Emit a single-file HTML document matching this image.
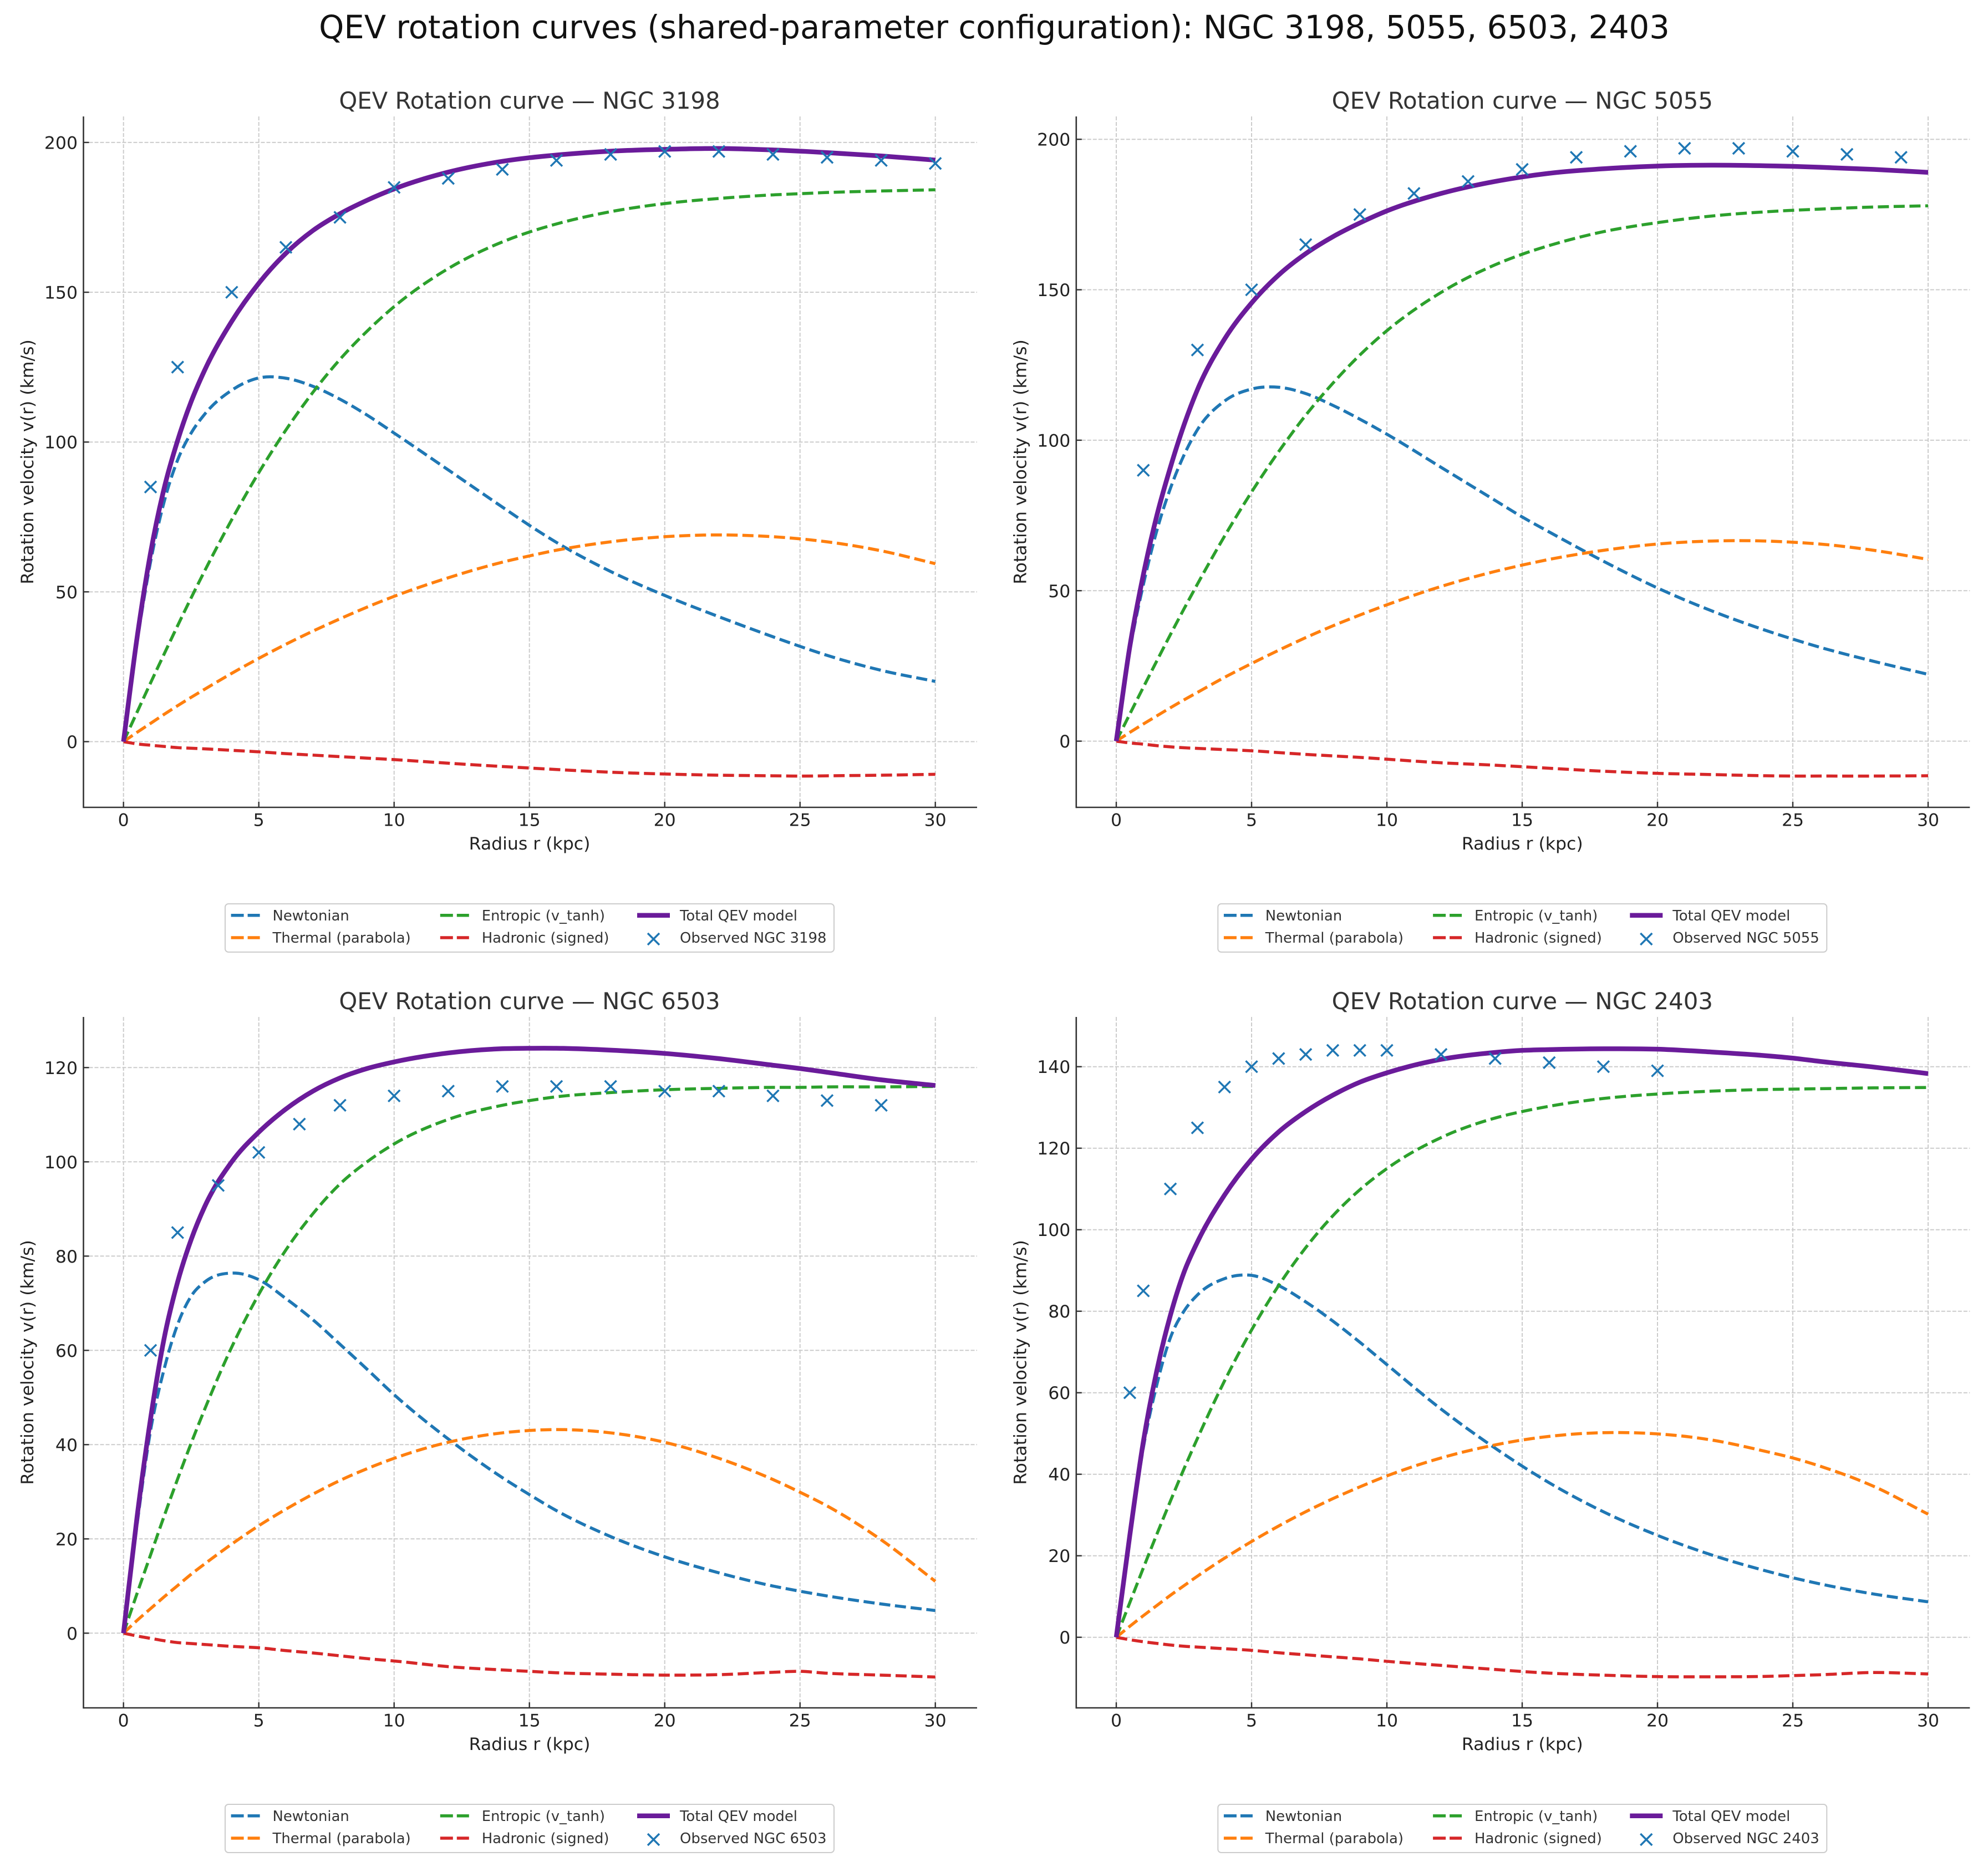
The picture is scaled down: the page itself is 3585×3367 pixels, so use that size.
<!DOCTYPE html>
<html lang="en">
<head>
<meta charset="utf-8">
<title>QEV rotation curves</title>
<style>
html,body{margin:0;padding:0;background:#fff;}
svg{display:block;}
text{font-family:"DejaVu Sans","Liberation Sans",sans-serif;}
.st{font-size:41.8px;fill:#333;text-anchor:middle;}
.al{font-size:31.5px;fill:#222;text-anchor:middle;}
.lg{font-size:25.9px;fill:#333;}
.lbox{fill:#fff;stroke:#ccc;stroke-width:2;}
.lh{fill:none;stroke-width:5.5;stroke-dasharray:23 7;}
.lx{fill:none;stroke:#1f77b4;stroke-width:3.5;}
</style>
</head>
<body>
<svg id="figure" xmlns="http://www.w3.org/2000/svg" width="3585" height="3367" viewBox="0 0 3585 3367">
<rect width="3585" height="3367" fill="#fff"/>
<text x="1793" y="69" font-size="57.5" fill="#111" text-anchor="middle">QEV rotation curves (shared-parameter configuration): NGC 3198, 5055, 6503, 2403</text>

<g id="panel-0" transform="translate(0,0)">
<g class="plot"></g>
<text class="st" x="955" y="196">QEV Rotation curve — NGC 3198</text>
<text class="al" x="955" y="1532">Radius r (kpc)</text>
<text class="al" transform="translate(60,833) rotate(-90)">Rotation velocity v(r) (km/s)</text>
<g>
<rect class="lbox" x="406" y="1630" width="1098" height="87" rx="6"/>
<line class="lh" x1="416.6" x2="468.6" y1="1650.7" y2="1650.7" stroke="#1f77b4"/>
<text class="lg" x="491.5" y="1660">Newtonian</text>
<line class="lh" x1="416.6" x2="468.6" y1="1691" y2="1691" stroke="#ff7f0e"/>
<text class="lg" x="491.5" y="1700">Thermal (parabola)</text>
<line class="lh" x1="793.8" x2="845.8" y1="1650.7" y2="1650.7" stroke="#2ca02c"/>
<text class="lg" x="868.7" y="1660">Entropic (v_tanh)</text>
<line class="lh" x1="793.8" x2="845.8" y1="1691" y2="1691" stroke="#d62728"/>
<text class="lg" x="868.7" y="1700">Hadronic (signed)</text>
<line x1="1149" x2="1208" y1="1650.7" y2="1650.7" stroke="#6a1b9a" stroke-width="8.5"/>
<text class="lg" x="1226" y="1660">Total QEV model</text>
<path class="lx" d="M1168 1683L1189 1704M1168 1704L1189 1683"/>
<text class="lg" x="1226" y="1700">Observed NGC 3198</text>
</g>
</g>

<g id="panel-1" transform="translate(1790.3,0)">
<g class="plot"></g>
<text class="st" x="955" y="196">QEV Rotation curve — NGC 5055</text>
<text class="al" x="955" y="1532">Radius r (kpc)</text>
<text class="al" transform="translate(60,833) rotate(-90)">Rotation velocity v(r) (km/s)</text>
<g>
<rect class="lbox" x="406" y="1630" width="1098" height="87" rx="6"/>
<line class="lh" x1="416.6" x2="468.6" y1="1650.7" y2="1650.7" stroke="#1f77b4"/>
<text class="lg" x="491.5" y="1660">Newtonian</text>
<line class="lh" x1="416.6" x2="468.6" y1="1691" y2="1691" stroke="#ff7f0e"/>
<text class="lg" x="491.5" y="1700">Thermal (parabola)</text>
<line class="lh" x1="793.8" x2="845.8" y1="1650.7" y2="1650.7" stroke="#2ca02c"/>
<text class="lg" x="868.7" y="1660">Entropic (v_tanh)</text>
<line class="lh" x1="793.8" x2="845.8" y1="1691" y2="1691" stroke="#d62728"/>
<text class="lg" x="868.7" y="1700">Hadronic (signed)</text>
<line x1="1149" x2="1208" y1="1650.7" y2="1650.7" stroke="#6a1b9a" stroke-width="8.5"/>
<text class="lg" x="1226" y="1660">Total QEV model</text>
<path class="lx" d="M1168 1683L1189 1704M1168 1704L1189 1683"/>
<text class="lg" x="1226" y="1700">Observed NGC 5055</text>
</g>
</g>

<g id="panel-2" transform="translate(0,1624)">
<g class="plot"></g>
<text class="st" x="955" y="196">QEV Rotation curve — NGC 6503</text>
<text class="al" x="955" y="1532">Radius r (kpc)</text>
<text class="al" transform="translate(60,833) rotate(-90)">Rotation velocity v(r) (km/s)</text>
<g>
<rect class="lbox" x="406" y="1630" width="1098" height="87" rx="6"/>
<line class="lh" x1="416.6" x2="468.6" y1="1650.7" y2="1650.7" stroke="#1f77b4"/>
<text class="lg" x="491.5" y="1660">Newtonian</text>
<line class="lh" x1="416.6" x2="468.6" y1="1691" y2="1691" stroke="#ff7f0e"/>
<text class="lg" x="491.5" y="1700">Thermal (parabola)</text>
<line class="lh" x1="793.8" x2="845.8" y1="1650.7" y2="1650.7" stroke="#2ca02c"/>
<text class="lg" x="868.7" y="1660">Entropic (v_tanh)</text>
<line class="lh" x1="793.8" x2="845.8" y1="1691" y2="1691" stroke="#d62728"/>
<text class="lg" x="868.7" y="1700">Hadronic (signed)</text>
<line x1="1149" x2="1208" y1="1650.7" y2="1650.7" stroke="#6a1b9a" stroke-width="8.5"/>
<text class="lg" x="1226" y="1660">Total QEV model</text>
<path class="lx" d="M1168 1683L1189 1704M1168 1704L1189 1683"/>
<text class="lg" x="1226" y="1700">Observed NGC 6503</text>
</g>
</g>

<g id="panel-3" transform="translate(1790.3,1624)">
<g class="plot"></g>
<text class="st" x="955" y="196">QEV Rotation curve — NGC 2403</text>
<text class="al" x="955" y="1532">Radius r (kpc)</text>
<text class="al" transform="translate(60,833) rotate(-90)">Rotation velocity v(r) (km/s)</text>
<g>
<rect class="lbox" x="406" y="1630" width="1098" height="87" rx="6"/>
<line class="lh" x1="416.6" x2="468.6" y1="1650.7" y2="1650.7" stroke="#1f77b4"/>
<text class="lg" x="491.5" y="1660">Newtonian</text>
<line class="lh" x1="416.6" x2="468.6" y1="1691" y2="1691" stroke="#ff7f0e"/>
<text class="lg" x="491.5" y="1700">Thermal (parabola)</text>
<line class="lh" x1="793.8" x2="845.8" y1="1650.7" y2="1650.7" stroke="#2ca02c"/>
<text class="lg" x="868.7" y="1660">Entropic (v_tanh)</text>
<line class="lh" x1="793.8" x2="845.8" y1="1691" y2="1691" stroke="#d62728"/>
<text class="lg" x="868.7" y="1700">Hadronic (signed)</text>
<line x1="1149" x2="1208" y1="1650.7" y2="1650.7" stroke="#6a1b9a" stroke-width="8.5"/>
<text class="lg" x="1226" y="1660">Total QEV model</text>
<path class="lx" d="M1168 1683L1189 1704M1168 1704L1189 1683"/>
<text class="lg" x="1226" y="1700">Observed NGC 2403</text>
</g>
</g>
</svg>

<script>
// Shared sampling radii (kpc) for the model curves
const radiusGrid = [0,0.5,1,1.5,2,2.5,3,4,5,6,7,8,9,10,12,14,15,16,18,20,22,24,25,26,28,30];
const xTickValues = [0,5,10,15,20,25,30];
const yTicks3198 = [0,50,100,150,200];
const yTicks5055 = [0,50,100,150,200];
const yTicks6503 = [0,20,40,60,80,100,120];
const yTicks2403 = [0,20,40,60,80,100,120,140];

// NGC 3198
const newtonian3198 = [0,33,60,80,94,103,109.3,117.3,121.4,121.3,118.6,114.3,109,103,90.7,78.3,72.2,66.5,56.8,48.8,41.7,35,31.8,28.8,23.8,20.1];
const thermal3198 = [0,3.1,6.1,9.1,12,14.8,17.5,22.8,27.8,32.5,36.9,41,44.9,48.5,54.7,59.9,62,63.9,66.7,68.4,69,68.4,67.7,66.7,63.7,59.4];
const entropic3198 = [0,9.8,19.6,29.2,38.7,48,57,74.1,89.8,104,116.6,127.6,137,145.2,157.9,166.8,170.1,172.8,176.9,179.6,181.3,182.5,182.9,183.3,183.8,184.2];
const hadronic3198 = [0,-0.75,-1.2,-1.6,-2,-2.2,-2.4,-2.9,-3.4,-4,-4.5,-5,-5.5,-6,-7.2,-8.3,-8.8,-9.3,-10.2,-10.8,-11.2,-11.4,-11.5,-11.4,-11.2,-10.9];
const total3198 = [0,34.6,63,84.5,100.5,113.5,124,140.3,153,163,170.6,176.2,180.7,184.5,190.1,193.7,194.9,195.8,197.1,197.7,198,197.5,197.1,196.6,195.5,194.1];
const obsR3198 = [1,2,4,6,8,10,12,14,16,18,20,22,24,26,28,30];
const obsV3198 = [85,125,150,165,175,185,188,191,194,196,197,197,196,195,194,193];

// NGC 5055
const newtonian5055 = [0,30,52,70,84,95,103.5,113,117,117.6,115.5,111.6,107,102,91,80,74.5,69.5,59.8,50.9,43.3,36.8,33.9,31.2,26.5,22.2];
const thermal5055 = [0,2.9,5.7,8.4,11.1,13.7,16.2,21.2,25.8,30.2,34.4,38.3,41.9,45.3,51.4,56.4,58.5,60.4,63.4,65.5,66.5,66.5,66.1,65.5,63.4,60.4];
const entropic5055 = [0,9,17.9,26.7,35.4,43.9,52.2,68.1,82.8,96.2,108.3,118.9,128.3,136.4,149.1,158.3,161.8,164.7,169.3,172.3,174.5,175.9,176.4,176.8,177.5,177.9];
const hadronic5055 = [0,-0.6,-1,-1.5,-1.9,-2.2,-2.4,-2.8,-3.2,-3.8,-4.4,-4.9,-5.4,-6,-7.2,-8,-8.5,-9,-10,-10.7,-11.1,-11.5,-11.6,-11.6,-11.6,-11.5];
const total5055 = [0,31.4,55.3,75,91,105,116.8,133.6,145.6,154.9,162,167.6,172.2,176.2,182,186,187.5,188.7,190.2,191.1,191.4,191.2,191,190.7,190,189];
const obsR5055 = [1,3,5,7,9,11,13,15,17,19,21,23,25,27,29];
const obsV5055 = [90,130,150,165,175,182,186,190,194,196,197,197,196,195,194];

// NGC 6503
const newtonian6503 = [0,23,43,56,65.5,71.5,74.5,76.4,75,71,66.5,61.3,56,50.6,41.2,33,29.4,26,20.5,16.2,12.8,10,8.9,7.9,6.2,4.8];
const thermal6503 = [0,2.7,5.2,7.7,10.1,12.5,14.7,18.9,22.8,26.3,29.5,32.4,34.9,37.1,40.5,42.5,43,43.2,42.5,40.5,37.1,32.6,29.9,27,19.8,11];
const entropic6503 = [0,8.4,16.6,24.8,32.7,40.3,47.5,60.7,71.9,81.3,89,95.3,100,103.8,109,112,113,113.8,114.7,115.3,115.6,115.8,115.8,115.9,115.9,116];
const hadronic6503 = [0,-0.6,-1.1,-1.6,-2,-2.2,-2.4,-2.8,-3.1,-3.7,-4.2,-4.8,-5.4,-5.9,-7.1,-7.8,-8.1,-8.4,-8.7,-8.9,-8.8,-8.3,-8.1,-8.5,-8.9,-9.3];
const total6503 = [0,24.6,45.5,62.5,74.5,83.5,90.5,100,106.3,111.2,115,117.8,119.8,121.2,123.1,124,124.1,124.1,123.7,123,121.9,120.5,119.8,119,117.4,116.2];
const obsR6503 = [1,2,3.5,5,6.5,8,10,12,14,16,18,20,22,24,26,28];
const obsV6503 = [60,85,95,102,108,112,114,115,116,116,116,115,115,114,113,112];

// NGC 2403
const newtonian2403 = [0,24,46.5,62,73.5,80,84,88,88.8,86.3,82.3,77.6,72.4,66.9,56,46.4,42,37.9,30.8,25,20.2,16.3,14.6,13.1,10.6,8.7];
const thermal2403 = [0,2.7,5.3,7.8,10.3,12.65,15,19.4,23.5,27.3,30.8,34,36.9,39.6,44,47.2,48.4,49.3,50.2,49.9,48.4,45.6,44,42,37,30.2];
const entropic2403 = [0,8.5,17,25.3,33.4,41.3,48.8,62.9,75.4,86.3,95.6,103.4,109.8,115,122.6,127.4,129,130.3,132.2,133.3,134,134.4,134.5,134.6,134.8,134.9];
const hadronic2403 = [0,-0.6,-1.1,-1.5,-1.9,-2.2,-2.4,-2.8,-3.2,-3.8,-4.3,-4.8,-5.3,-5.9,-6.9,-7.9,-8.4,-8.8,-9.3,-9.65,-9.7,-9.6,-9.4,-9.2,-8.65,-9];
const total2403 = [0,25,48,65.5,79,89.5,97,108.5,117.3,124,129,133,136.2,138.5,141.8,143.5,144,144.2,144.4,144.3,143.6,142.7,142.1,141.3,139.9,138.3];
const obsR2403 = [0.5,1,2,3,4,5,6,7,8,9,10,12,14,16,18,20];
const obsV2403 = [60,85,110,125,135,140,142,143,144,144,144,143,142,141,140,139];

const SVGNS = 'http://www.w3.org/2000/svg';
const AX = {left:150.5, right:1762, top:210, bottom:1456, x0:222.7, xk:48.8};

function mk(parent, tag, attrs) {
  const el = document.createElementNS(SVGNS, tag);
  for (const k in attrs) el.setAttribute(k, attrs[k]);
  parent.appendChild(el);
  return el;
}

function smoothPath(xs, ys) {
  const n = xs.length, m = [];
  for (let i = 0; i < n; i++) {
    if (i === 0) m.push((ys[1]-ys[0])/(xs[1]-xs[0]));
    else if (i === n-1) m.push((ys[n-1]-ys[n-2])/(xs[n-1]-xs[n-2]));
    else {
      const h0 = xs[i]-xs[i-1], h1 = xs[i+1]-xs[i];
      const d0 = (ys[i]-ys[i-1])/h0, d1 = (ys[i+1]-ys[i])/h1;
      m.push((d0*h1 + d1*h0)/(h0+h1));
    }
  }
  let d = 'M' + xs[0].toFixed(2) + ' ' + ys[0].toFixed(2);
  for (let i = 0; i < n-1; i++) {
    const h = xs[i+1]-xs[i];
    d += 'C' + (xs[i]+h/3).toFixed(2) + ' ' + (ys[i]+m[i]*h/3).toFixed(2) + ' '
       + (xs[i+1]-h/3).toFixed(2) + ' ' + (ys[i+1]-m[i+1]*h/3).toFixed(2) + ' '
       + xs[i+1].toFixed(2) + ' ' + ys[i+1].toFixed(2);
  }
  return d;
}

function drawPanel(index, yZero, yScaleK, yTickValues, newtonian, thermal, entropic, hadronic, total, obsR, obsV) {
  const plot = document.querySelector('#panel-' + index + ' .plot');
  const xPx = function (r) { return AX.x0 + AX.xk * r; };
  const yPx = function (v) { return yZero - yScaleK * v; };

  // grid
  xTickValues.forEach(function (t) {
    const g = mk(plot, 'line', {x1:xPx(t), x2:xPx(t), y1:AX.top, y2:AX.bottom, stroke:'#ccc', 'stroke-width':2, 'stroke-dasharray':'7 3'});
    
    
  });
  yTickValues.forEach(function (t) {
    const g = mk(plot, 'line', {x1:AX.left, x2:AX.right, y1:yPx(t), y2:yPx(t), stroke:'#ccc', 'stroke-width':2, 'stroke-dasharray':'7 3'});
    
    
  });

  // series
  const rx = radiusGrid.map(xPx);
  function curve(values, color, width, dashed, name) {
    const attrs = {d:smoothPath(rx, values.map(yPx)), fill:'none', stroke:color, 'stroke-width':width, 'stroke-linejoin':'round'};
    if (dashed) attrs['stroke-dasharray'] = '20 8.5';
    const p = mk(plot, 'path', attrs);
    
    
  }
  curve(newtonian, '#1f77b4', 5.5, true, 'newtonian-curve');
  curve(thermal, '#ff7f0e', 5.5, true, 'thermal-curve');
  curve(entropic, '#2ca02c', 5.5, true, 'entropic-curve');
  curve(hadronic, '#d62728', 5.5, true, 'hadronic-curve');
  curve(total, '#6a1b9a', 8.5, false, 'total-qev-curve');

  // observed points
  obsR.forEach(function (r, i) {
    const cx = xPx(r), cy = yPx(obsV[i]), s = 10.5;
    const m = mk(plot, 'path', {d:'M'+(cx-s)+' '+(cy-s)+'L'+(cx+s)+' '+(cy+s)+'M'+(cx-s)+' '+(cy+s)+'L'+(cx+s)+' '+(cy-s), fill:'none', stroke:'#1f77b4', 'stroke-width':3.5});
    
    
  });

  // spines
  const sl = mk(plot, 'line', {x1:AX.left, x2:AX.left, y1:AX.top, y2:AX.bottom+1.3, stroke:'#333', 'stroke-width':2.6});
  
  
  const sb = mk(plot, 'line', {x1:AX.left, x2:AX.right, y1:AX.bottom, y2:AX.bottom, stroke:'#333', 'stroke-width':2.6});
  
  

  // ticks
  xTickValues.forEach(function (t) {
    const tk = mk(plot, 'line', {x1:xPx(t), x2:xPx(t), y1:AX.bottom, y2:AX.bottom-10, stroke:'#333', 'stroke-width':2.4});
    
    
    const lb = mk(plot, 'text', {x:xPx(t), y:1489.5, 'font-size':31.5, fill:'#222', 'text-anchor':'middle'});
    lb.textContent = t;
    
    
  });
  yTickValues.forEach(function (t) {
    const tk = mk(plot, 'line', {x1:AX.left, x2:AX.left+10, y1:yPx(t), y2:yPx(t), stroke:'#333', 'stroke-width':2.4});
    
    
    const lb = mk(plot, 'text', {x:140, y:yPx(t)+11.5, 'font-size':31.5, fill:'#222', 'text-anchor':'end'});
    lb.textContent = t;
    
    
  });
}

drawPanel(0, 1337.5, 5.403, yTicks3198, newtonian3198, thermal3198, entropic3198, hadronic3198, total3198, obsR3198, obsV3198);
drawPanel(1, 1336.6, 5.427, yTicks5055, newtonian5055, thermal5055, entropic5055, hadronic5055, total5055, obsR5055, obsV5055);
drawPanel(2, 1321.3, 8.5, yTicks6503, newtonian6503, thermal6503, entropic6503, hadronic6503, total6503, obsR6503, obsV6503);
drawPanel(3, 1328.7, 7.35, yTicks2403, newtonian2403, thermal2403, entropic2403, hadronic2403, total2403, obsR2403, obsV2403);
</script>
</body>
</html>
